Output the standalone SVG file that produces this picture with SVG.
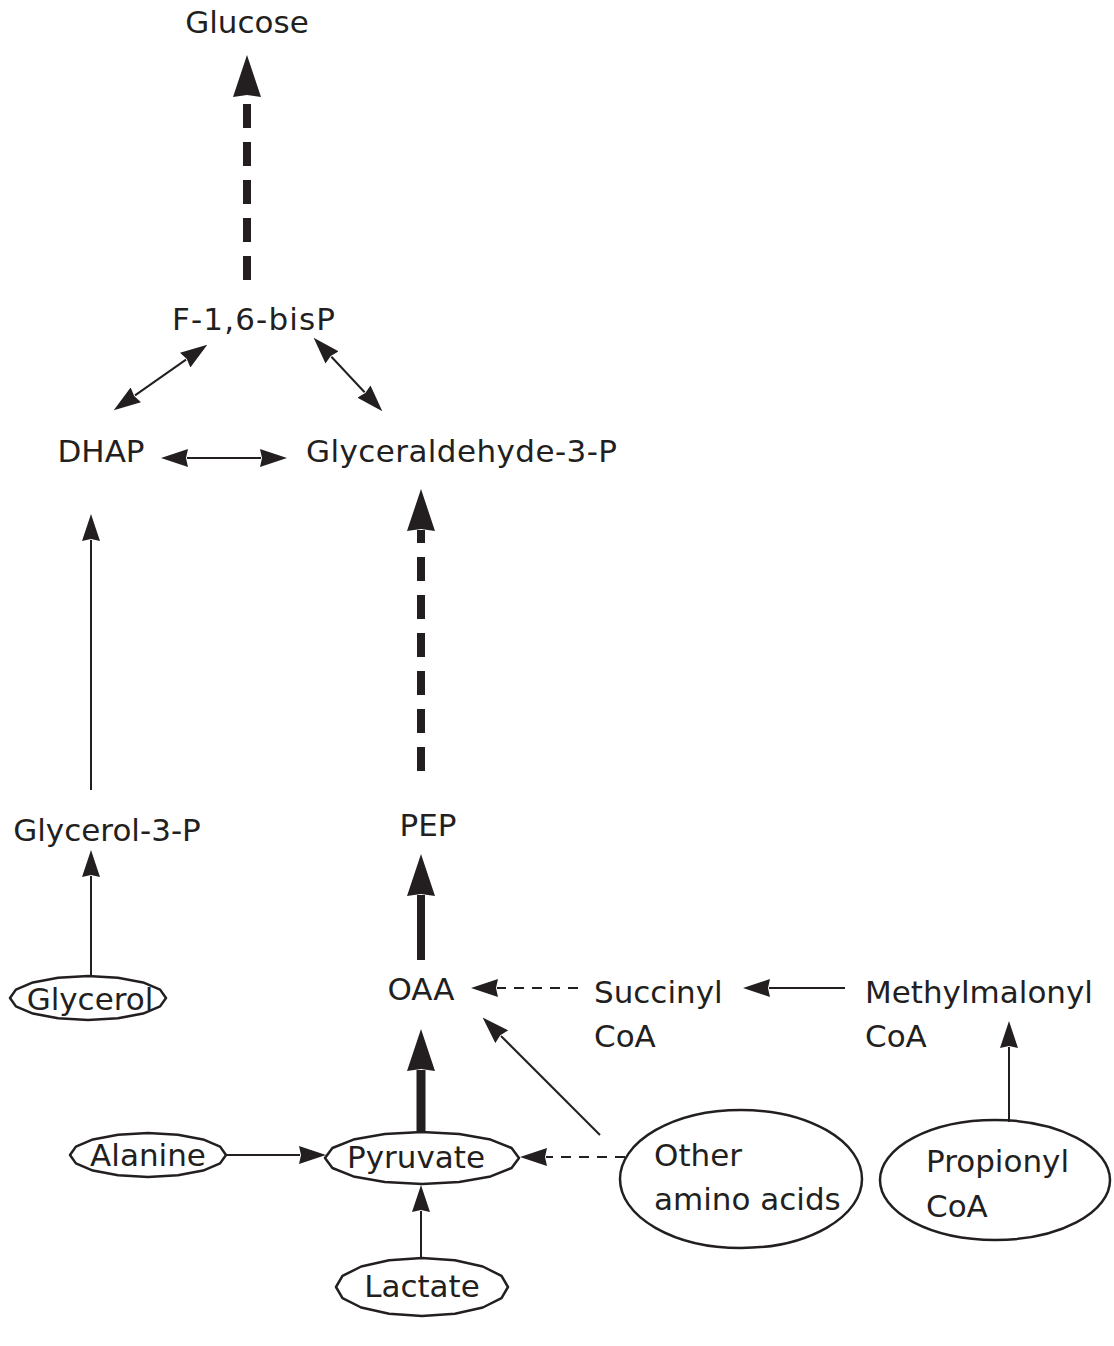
<svg xmlns="http://www.w3.org/2000/svg" width="1114" height="1346" viewBox="0 0 1114 1346">
<style>
text{font-family:"DejaVu Sans","Liberation Sans",sans-serif;font-size:31px;fill:#231f20}
.node ellipse,.node polygon{fill:none;stroke:#231f20;stroke-width:2.5;stroke-linejoin:round}
.thin{stroke:#231f20;stroke-width:2;fill:none;marker-end:url(#ah)}
.dbl{marker-start:url(#ah)}
.dash{stroke-dasharray:10 8}
.thick{stroke:#231f20;stroke-width:8;fill:none;marker-end:url(#big)}
.tdash{stroke-dasharray:24 14}
</style>
<defs>
<marker id="ah" markerUnits="userSpaceOnUse" viewBox="0 0 27 18" markerWidth="27" markerHeight="18" refX="1" refY="9" orient="auto-start-reverse">
<path d="M0,0 L27,9 L0,18 L2,9 z" fill="#231f20"/>
</marker>
<marker id="big" markerUnits="userSpaceOnUse" viewBox="0 0 42 28" markerWidth="42" markerHeight="28" refX="1" refY="14" orient="auto">
<path d="M0,0 L42,14 L0,28 L2,14 z" fill="#231f20"/>
</marker>
</defs>
<g id="connectors">
<line class="thick tdash" x1="247" y1="280" x2="247" y2="96"/>
<line class="thick tdash" x1="421" y1="771" x2="421" y2="530"/>
<line class="thick" x1="421" y1="960" x2="421" y2="895"/>
<line class="thick" x1="421" y1="1133" x2="421" y2="1070" style="stroke-width:9"/>
<line class="thin dbl" x1="186" y1="359.6" x2="135" y2="395.4"/>
<line class="thin dbl" x1="331.4" y1="356.7" x2="364.6" y2="392.3"/>
<line class="thin dbl" x1="187" y1="458" x2="261" y2="458"/>
<line class="thin" x1="91" y1="790" x2="91" y2="540"/>
<line class="thin" x1="91" y1="977" x2="91" y2="876"/>
<line class="thin dash" x1="578" y1="988" x2="497" y2="988"/>
<line class="thin" x1="845" y1="988" x2="769" y2="988"/>
<line class="thin" x1="600" y1="1135" x2="501" y2="1036"/>
<line class="thin dash" x1="625" y1="1157" x2="546" y2="1157"/>
<line class="thin" x1="226" y1="1155" x2="300" y2="1155"/>
<line class="thin" x1="421" y1="1258" x2="421" y2="1211"/>
<line class="thin" x1="1009" y1="1122" x2="1009" y2="1047"/>
</g>
<g id="glucose" class="node"><text x="247" y="33" text-anchor="middle">Glucose</text></g>
<g id="f16bp" class="node"><text x="172" y="330" textLength="163" lengthAdjust="spacing">F-1,6-bisP</text></g>
<g id="dhap" class="node"><text x="101" y="462" text-anchor="middle">DHAP</text></g>
<g id="g3p" class="node"><text x="306" y="462" textLength="311" lengthAdjust="spacing">Glyceraldehyde-3-P</text></g>
<g id="glycerol3p" class="node"><text x="107" y="841" text-anchor="middle">Glycerol-3-P</text></g>
<g id="pep" class="node"><text x="428" y="836" text-anchor="middle">PEP</text></g>
<g id="oaa" class="node"><text x="421" y="1000" text-anchor="middle">OAA</text></g>
<g id="succinyl" class="node"><text x="594" y="1003">Succinyl</text><text x="594" y="1047">CoA</text></g>
<g id="methylmalonyl" class="node"><text x="865" y="1003">Methylmalonyl</text><text x="865" y="1047">CoA</text></g>
<g id="glycerol" class="node"><polygon points="166,998 160.1,1006.4 143.1,1013.6 117.9,1018.3 88,1020 58.1,1018.3 32.9,1013.6 15.9,1006.4 10,998 15.9,989.6 32.9,982.4 58.1,977.7 88,976 117.9,977.7 143.1,982.4 160.1,989.6"/><text x="90" y="1010" text-anchor="middle">Glycerol</text></g>
<g id="alanine" class="node"><polygon points="226,1155 220.1,1163.4 203.1,1170.6 177.9,1175.3 148,1177 118.1,1175.3 92.9,1170.6 75.9,1163.4 70,1155 75.9,1146.6 92.9,1139.4 118.1,1134.7 148,1133 177.9,1134.7 203.1,1139.4 220.1,1146.6"/><text x="148" y="1166" text-anchor="middle">Alanine</text></g>
<g id="pyruvate" class="node"><polygon points="519,1158 511.6,1168 490.6,1176.4 459.2,1182 422,1184 384.8,1182 353.4,1176.4 332.4,1168 325,1158 332.4,1148 353.4,1139.6 384.8,1134 422,1132 459.2,1134 490.6,1139.6 511.6,1148"/><text x="416" y="1168" text-anchor="middle">Pyruvate</text></g>
<g id="lactate" class="node"><polygon points="508,1287 501.5,1298.1 482.8,1307.5 454.9,1313.8 422,1316 389.1,1313.8 361.2,1307.5 342.5,1298.1 336,1287 342.5,1275.9 361.2,1266.5 389.1,1260.2 422,1258 454.9,1260.2 482.8,1266.5 501.5,1275.9"/><text x="422" y="1297" text-anchor="middle">Lactate</text></g>
<g id="other" class="node"><ellipse cx="741" cy="1179" rx="121" ry="69"/><text x="654" y="1166">Other</text><text x="654" y="1210">amino acids</text></g>
<g id="propionyl" class="node"><ellipse cx="995" cy="1180" rx="115" ry="60"/><text x="926" y="1172">Propionyl</text><text x="926" y="1217">CoA</text></g>
</svg>
